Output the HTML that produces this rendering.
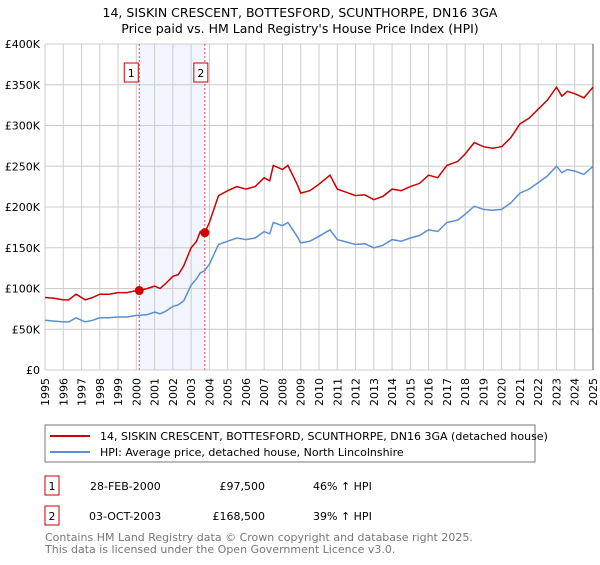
<!DOCTYPE html>
<html><head><meta charset="utf-8"><style>
body{margin:0;background:#fff;font-family:"Liberation Sans","DejaVu Sans",sans-serif;}
svg text{font-family:"DejaVu Sans","Liberation Sans",sans-serif;}
</style></head><body>
<svg id="c" width="600" height="560" xmlns="http://www.w3.org/2000/svg">
<text x="300" y="17" text-anchor="middle" font-size="12.5">14, SISKIN CRESCENT, BOTTESFORD, SCUNTHORPE, DN16 3GA</text>
<text x="300" y="33" text-anchor="middle" font-size="12.5">Price paid vs. HM Land Registry's House Price Index (HPI)</text>
<g id="plot"></g>
<rect x="45" y="425" width="490" height="37" fill="none" stroke="#777"/>
<line x1="50" y1="436" x2="90" y2="436" stroke="#cc0000" stroke-width="2"/>
<text x="100" y="440" font-size="11">14, SISKIN CRESCENT, BOTTESFORD, SCUNTHORPE, DN16 3GA (detached house)</text>
<line x1="50" y1="452" x2="90" y2="452" stroke="#5b8fd4" stroke-width="2"/>
<text x="100" y="456" font-size="11">HPI: Average price, detached house, North Lincolnshire</text>
<rect x="45" y="476" width="14" height="19" fill="none" stroke="#cc0000"/>
<text x="52" y="490" font-size="11" text-anchor="middle">1</text>
<text x="90" y="490" font-size="11">28-FEB-2000</text>
<text x="265" y="490" font-size="11" text-anchor="end">£97,500</text>
<text x="313" y="490" font-size="11">46% ↑ HPI</text>
<rect x="45" y="506" width="14" height="19" fill="none" stroke="#cc0000"/>
<text x="52" y="520" font-size="11" text-anchor="middle">2</text>
<text x="89" y="520" font-size="11">03-OCT-2003</text>
<text x="265" y="520" font-size="11" text-anchor="end">£168,500</text>
<text x="313" y="520" font-size="11">39% ↑ HPI</text>
<text x="45" y="541" font-size="11" fill="#777">Contains HM Land Registry data © Crown copyright and database right 2025.</text>
<text x="45" y="553" font-size="11" fill="#777">This data is licensed under the Open Government Licence v3.0.</text>
</svg>
<script>
const years=[1995,1995.5,1996,1996.3,1996.7,1997,1997.2,1997.6,1998,1998.5,1999,1999.5,2000,2000.16,2000.6,2001,2001.3,2001.6,2002,2002.3,2002.6,2003,2003.3,2003.5,2003.75,2004,2004.5,2005,2005.5,2006,2006.5,2007,2007.3,2007.5,2008,2008.3,2008.8,2009,2009.5,2010,2010.6,2011,2011.5,2012,2012.5,2013,2013.5,2014,2014.5,2015,2015.5,2016,2016.5,2017,2017.6,2018,2018.5,2019,2019.5,2020,2020.5,2021,2021.5,2022,2022.5,2023,2023.3,2023.6,2024,2024.5,2025];
const hpi=[61,60,59,59,64,61,59,61,64,64,65,65,67,67,68,71,69,72,78,80,85,104,112,119,122,130,154,158,162,160,162,170,167,181,177,181,164,156,158,164,172,160,157,154,155,150,153,160,158,162,165,172,170,181,184,191,201,197,196,197,205,217,222,230,238,250,242,246,244,240,250];
const price=[89,88,86,86,93,89,86,89,93,93,95,95,97.5,97.5,100,103,100,106,115,117,128,150,158,170,168.5,181,214,220,225,222,225,236,232,251,246,251,228,217,220,228,239,222,218,214,215,209,213,222,220,225,229,239,236,251,256,265,279,274,272,274,285,302,309,320,331,347,336,342,339,334,347];
const sales=[{t:2000.16,v:97.5,n:"1"},{t:2003.75,v:168.5,n:"2"}];
const yTicks=[0,50,100,150,200,250,300,350,400];
const yTickLabels=["£0","£50K","£100K","£150K","£200K","£250K","£300K","£350K","£400K"];
const L=45,R=593,T=44,B=370,Y0=1995,Y1=2025;
const sx=t=>L+(t-Y0)/(Y1-Y0)*(R-L);
const sy=v=>B-v/400*(B-T);
const NS="http://www.w3.org/2000/svg";
const g=document.getElementById('plot');
function mk(tag,attrs){const e=document.createElementNS(NS,tag);for(const k in attrs)e.setAttribute(k,attrs[k]);g.appendChild(e);return e;}
let e=mk('rect',{x:sx(sales[0].t),y:T,width:sx(sales[1].t)-sx(sales[0].t),height:B-T,fill:'#f2f5fd'});


for(let yr=Y0;yr<=Y1;yr++){
  e=mk('line',{x1:sx(yr),x2:sx(yr),y1:T,y2:B,stroke:'#cccccc','stroke-width':1});
  
  
  e=mk('text',{x:0,y:0,'font-size':11,'text-anchor':'end',transform:`translate(${sx(yr)+4},${B+8}) rotate(-90)`});
  e.textContent=yr;
  
  
}
yTicks.forEach((v,i)=>{
  e=mk('line',{x1:L,x2:R,y1:sy(v),y2:sy(v),stroke:'#cccccc','stroke-width':1});
  
  
  e=mk('text',{x:40,y:sy(v)+4,'font-size':11,'text-anchor':'end'});
  e.textContent=yTickLabels[i];
  
  
});
e=mk('line',{x1:R,x2:R,y1:T,y2:B,stroke:'#555','stroke-width':1});


sales.forEach(s=>{
  e=mk('line',{x1:sx(s.t),x2:sx(s.t),y1:T,y2:B,stroke:'#e05050','stroke-width':1,'stroke-dasharray':'2,2'});
  
  
  const bx=sx(s.t)-(s.n==="1"?9:5);
  e=mk('rect',{x:bx-6,y:63,width:14,height:19,fill:'#fff',stroke:'#cc0000'});
  
  
  e=mk('text',{x:bx+1,y:77,'font-size':11,'text-anchor':'middle'});
  e.textContent=s.n;
  
  
});
const pts=a=>years.map((t,i)=>sx(t).toFixed(1)+','+sy(a[i]).toFixed(1)).join(' ');
e=mk('polyline',{points:pts(hpi),fill:'none',stroke:'#5b8fd4','stroke-width':1.5});


e=mk('polyline',{points:pts(price),fill:'none',stroke:'#cc0000','stroke-width':1.5});


sales.forEach(s=>{
  e=mk('circle',{cx:sx(s.t),cy:sy(s.v),r:4.5,fill:'#cc0000'});
  
  
});
</script>
</body></html>
